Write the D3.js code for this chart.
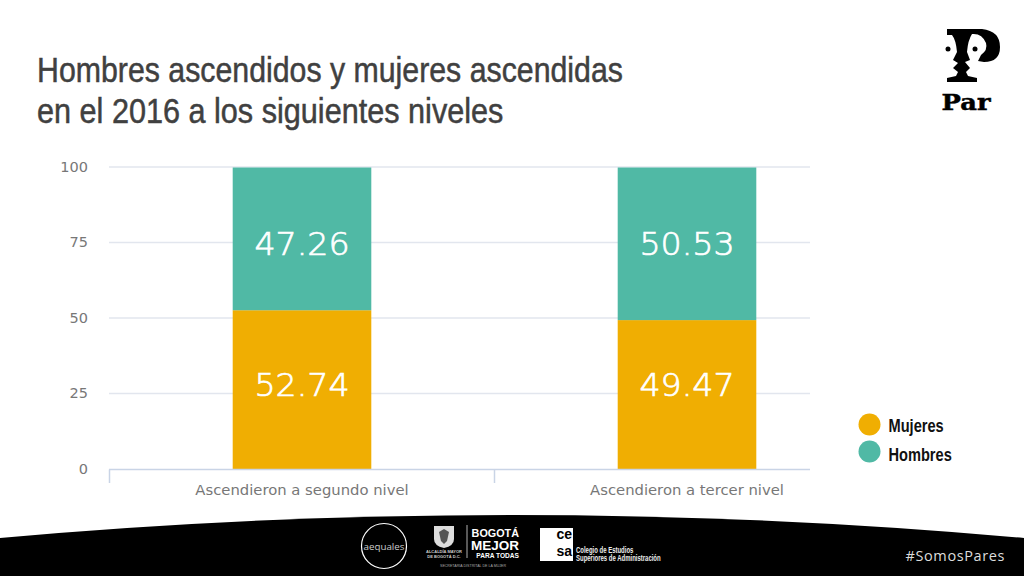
<!DOCTYPE html>
<html>
<head>
<meta charset="utf-8">
<script src="https://cdn.jsdelivr.net/npm/d3@7"></script>
<style>
  html, body { margin: 0; padding: 0; background: #fff; overflow: hidden; }
  svg { display: block; }
</style>
</head>
<body>
<svg width="1024" height="576"></svg>
<script>
var categories = ["Ascendieron a segundo nivel", "Ascendieron a tercer nivel"];
var mujeres = [52.74, 49.47];
var hombres = [47.26, 50.53];
var yTicks = [0, 25, 50, 75, 100];
var seriesNames = ["Mujeres", "Hombres"];
var seriesColors = ["#f0ae02", "#50b9a5"];
var titleLines = ["Hombres ascendidos y mujeres ascendidas", "en el 2016 a los siguientes niveles"];

var svg = d3.select("svg"),
  width = +svg.attr("width"),
  height = +svg.attr("height");

var chartFont = "'DejaVu Sans', Verdana, sans-serif";
var sansFont = "'Liberation Sans', Arial, sans-serif";

// no condensed face here, so squeeze the regular one
function squeezed(parent, x, y, txt, size, sx) {
  return parent.append("text")
    .attr("transform", "translate(" + x + "," + y + ") scale(" + sx + ",1)")
    .attr("font-family", sansFont)
    .attr("font-size", size)
    .text(txt);
}

// title
titleLines.forEach(function (t, i) {
  squeezed(svg, 37, 82 + i * 41, t, 35, i == 0 ? 0.866 : 0.875)
    .attr("fill", "#404040")
    .attr("stroke", "#404040")
    .attr("stroke-width", 0.5);
});

var xScale = d3.scaleBand().domain(categories).range([109.5, 879.5]).paddingInner(0.64).paddingOuter(0.32);
var yScale = d3.scaleLinear().domain([0, 100]).range([469.5, 167.5]);

// the plot is cut off at the right by the legend area
svg.append("clipPath").attr("id", "plot")
  .append("rect").attr("x", 100).attr("y", 150).attr("width", 710).attr("height", 340);

// grid
svg.append("g")
  .selectAll("line")
  .data(yTicks.filter(function (d) { return d > 0; }))
  .enter()
  .append("line")
  .attr("x1", 109)
  .attr("x2", 810)
  .attr("y1", function (d) { return yScale(d) - 0.5; })
  .attr("y2", function (d) { return yScale(d) - 0.5; })
  .attr("stroke", "#e2e6ee")
  .attr("stroke-width", 1.3);

// y axis, labels only
var yAxis = d3.axisLeft(yScale).tickValues(yTicks).tickSize(0).tickPadding(0);
var yG = svg.append("g").attr("transform", "translate(88,-1)").call(yAxis);
yG.select(".domain").remove();
yG.selectAll("text")
  .attr("font-family", chartFont)
  .attr("font-size", 14.5)
  .attr("fill", "#777");

// bars
var bars = svg.append("g");
function barLabel(c, level, value) {
  var cx = xScale(c) + xScale.bandwidth() / 2;
  bars.append("text")
    .attr("transform", "translate(" + cx + "," + yScale(level) + ") scale(1.04,1)")
    .attr("dy", "0.36em")
    .attr("text-anchor", "middle")
    .attr("font-family", chartFont)
    .attr("font-size", 32)
    .attr("font-weight", 200)
    .attr("fill", "#fff")
    .attr("stroke", "#fff")
    .attr("stroke-width", 0.7)
    .text(value.toFixed(2));
}
categories.forEach(function (c, i) {
  bars.append("rect")
    .attr("x", xScale(c))
    .attr("width", xScale.bandwidth())
    .attr("y", yScale(mujeres[i]))
    .attr("height", yScale(0) - yScale(mujeres[i]))
    .attr("fill", seriesColors[0]);
  bars.append("rect")
    .attr("x", xScale(c))
    .attr("width", xScale.bandwidth())
    .attr("y", yScale(mujeres[i] + hombres[i]))
    .attr("height", yScale(mujeres[i]) - yScale(mujeres[i] + hombres[i]))
    .attr("fill", seriesColors[1]);
  // labels sit at the same height in both columns
  barLabel(c, 28, mujeres[i]);
  barLabel(c, 75, hombres[i]);
});

// x axis
var xAxis = d3.axisBottom(xScale).tickSize(0).tickPadding(14);
var xG = svg.append("g").attr("transform", "translate(0,470)").call(xAxis);
xG.select(".domain").remove();
xG.selectAll("text")
  .attr("font-family", chartFont)
  .attr("font-size", 14.8)
  .attr("fill", "#777");
var axisG = svg.append("g").attr("clip-path", "url(#plot)");
axisG.append("line")
  .attr("x1", 109).attr("x2", 879).attr("y1", 469.5).attr("y2", 469.5)
  .attr("stroke", "#c9d4e6").attr("stroke-width", 1.5);
axisG.selectAll(".tick")
  .data(xScale.range().concat([(xScale.range()[0] + xScale.range()[1]) / 2]))
  .enter()
  .append("line")
  .attr("x1", function (d) { return d; })
  .attr("x2", function (d) { return d; })
  .attr("y1", 469.5).attr("y2", 483)
  .attr("stroke", "#c9d4e6").attr("stroke-width", 1.5);

// legend
seriesNames.forEach(function (s, i) {
  svg.append("circle")
    .attr("cx", 869.5).attr("cy", 424.5 + i * 27).attr("r", 11)
    .attr("fill", seriesColors[i]);
  squeezed(svg, 888.5, 431.5 + i * 29, s, 18.5, 0.79)
    .attr("font-weight", 700)
    .attr("fill", "#111");
});

// footer band
svg.append("path")
  .attr("d", "M0,538 Q512,492 1024,538 L1024,576 L0,576 Z")
  .attr("fill", "#000");

// aequales logo
svg.append("circle").attr("cx", 384).attr("cy", 546).attr("r", 22.5)
  .attr("fill", "none").attr("stroke", "#fff").attr("stroke-width", 1.2);
svg.append("text").attr("x", 384).attr("y", 550).attr("text-anchor", "middle")
  .attr("font-family", "'Open Sans', sans-serif").attr("font-size", 9.8).attr("fill", "#ccc").text("aequales");

// alcaldia logo
svg.append("path").attr("d", "M434,526 H454 V539 Q454,546 444,548 Q434,546 434,539 Z").attr("fill", "#ddd");
svg.append("path").attr("d", "M439,532 L444,529 L449,532 L447,541 L444,544 L441,541 Z").attr("fill", "#555");
[["ALCALDÍA MAYOR", 553], ["DE BOGOTÁ D.C.", 557.5]].forEach(function (d) {
  svg.append("text").attr("x", 444).attr("y", d[1]).attr("text-anchor", "middle")
    .attr("font-family", sansFont).attr("font-size", 4).attr("font-weight", 700)
    .attr("fill", "#ccc").text(d[0]);
});
svg.append("line").attr("x1", 467).attr("x2", 467).attr("y1", 525).attr("y2", 558)
  .attr("stroke", "#ddd").attr("stroke-width", 0.8);
[["BOGOTÁ", 537, 10.8], ["MEJOR", 550, 13.5], ["PARA TODAS", 557.5, 6.6]].forEach(function (d) {
  svg.append("text").attr("x", 519).attr("y", d[1]).attr("text-anchor", "end")
    .attr("font-family", sansFont).attr("font-weight", 700)
    .attr("font-size", d[2]).attr("fill", "#fff").text(d[0]);
});
svg.append("text").attr("x", 473).attr("y", 566.5).attr("text-anchor", "middle")
  .attr("font-family", sansFont).attr("font-size", 3.6).attr("fill", "#aaa")
  .text("SECRETARÍA DISTRITAL DE LA MUJER");

// cesa logo
svg.append("rect").attr("x", 540).attr("y", 528).attr("width", 33).attr("height", 33).attr("fill", "#fff");
[["ce", 539], ["sa", 556]].forEach(function (d) {
  svg.append("text").attr("x", 572).attr("y", d[1]).attr("text-anchor", "end")
    .attr("font-family", sansFont).attr("font-weight", 700).attr("font-size", 14)
    .attr("fill", "#000").text(d[0]);
});
[["Colegio de Estudios", 552.5], ["Superiores de Administración", 561]].forEach(function (d) {
  squeezed(svg, 576, d[1], d[0], 8.2, 0.73)
    .attr("font-weight", 700)
    .attr("fill", "#eee");
});

// hashtag
svg.append("text").attr("x", 1005).attr("y", 561).attr("text-anchor", "end")
  .attr("font-family", "'Open Sans', sans-serif").attr("font-size", 14.5).attr("letter-spacing", 0.6)
  .attr("fill", "#ddd").text("#SomosPares");

// Par logo
svg.append("path")
  .attr("d", "M947,29 H982 Q1000,31 1000,47 Q1000,62 984,62 L978,61 L981,55 Q988,50 986,43 Q982,33 972,34 Q968,40 967,52 L970,60 L965,62 L970,68 L966,72 L968,76 L977,78 V82 H947 V78 L956,76 L958,72 L953,68 L958,63 L953,60 L957,52 Q956,40 952,35 L947,35 Z")
  .attr("fill", "#000");
svg.append("circle").attr("cx", 948).attr("cy", 49).attr("r", 2.5).attr("fill", "#000");
svg.append("circle").attr("cx", 975).attr("cy", 49).attr("r", 2.5).attr("fill", "#000");
svg.append("text").attr("transform", "translate(966,110) scale(1.12,1)").attr("text-anchor", "middle")
  .attr("font-family", "'DejaVu Serif', serif").attr("font-weight", 700).attr("font-size", 23)
  .attr("stroke", "#000").attr("stroke-width", 0.5)
  .attr("fill", "#000").text("Par");
</script>
</body>
</html>
